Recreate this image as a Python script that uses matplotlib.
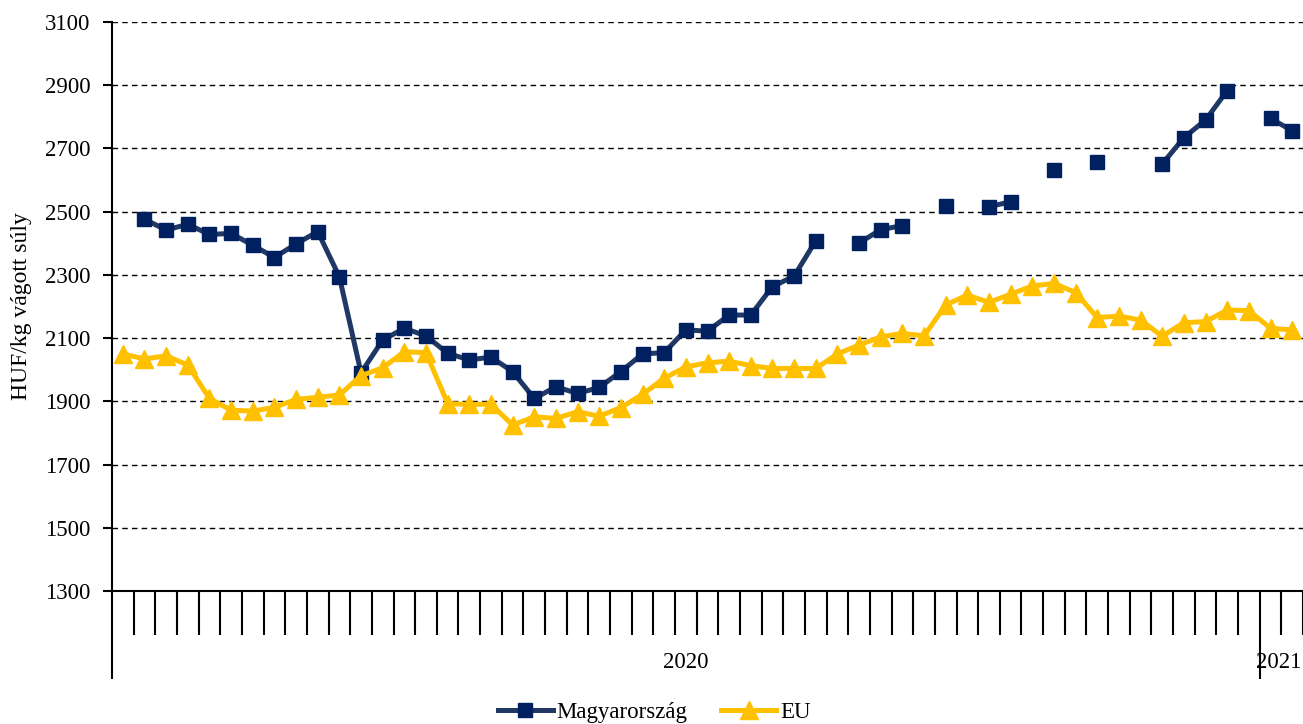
import numpy as np
import matplotlib.pyplot as plt
from matplotlib.transforms import blended_transform_factory

#---
#       DATA (weekly prices, HUF/kg carcass weight)
#---
nan = np.nan

# week categories: 2020 has 53 weeks, then the first weeks of 2021
years = ['2020', '2021']
weeks_per_year = [53, 2]

hu = [nan, 2476, 2442, 2460, 2428, 2431, 2394, 2355, 2398, 2437,
      2294, 1990, 2094, 2131, 2107, 2052, 2031, 2040, 1994, 1909,
      1946, 1925, 1944, 1994, 2050, 2054, 2126, 2122, 2173, 2173,
      2263, 2296, 2408, nan, 2401, 2443, 2456, nan, 2519, nan,
      2516, 2531, nan, 2632, nan, 2656, nan, nan, 2651, 2734,
      2790, 2883, nan, 2795, 2756]

eu = [2050, 2034, 2044, 2015, 1909, 1872, 1869, 1881, 1906, 1913,
      1920, 1981, 2006, 2057, 2054, 1893, 1890, 1891, 1825, 1851,
      1846, 1867, 1853, 1880, 1922, 1973, 2009, 2022, 2027, 2013,
      2004, 2004, 2004, 2050, 2078, 2104, 2115, 2107, 2205, 2236,
      2213, 2239, 2265, 2273, 2244, 2165, 2170, 2157, 2106, 2149,
      2152, 2189, 2187, 2131, 2126]

yticks = [1300, 1500, 1700, 1900, 2100, 2300, 2500, 2700, 2900, 3100]

#---
#       PLOT
#---
plt.rcParams['font.family'] = ['Liberation Serif', 'DejaVu Serif']
FS = 16.5

W, H = 1303, 724
fig = plt.figure(figsize=(W / 100, H / 100), dpi=100)
fig.set_facecolor('white')
ax = fig.add_axes([112 / W, 1 - 591 / H, (W - 112) / W, (591 - 22) / H])

x = np.arange(len(eu)) + 0.5

ax.plot(x, hu, '-s', color='#1f3864', linewidth=3.6, markersize=10.5,
        markerfacecolor='#002060', markeredgecolor='#002060',
        label='Magyarország', zorder=3)
ax.plot(x, eu, '-^', color='#ffc000', linewidth=3.6, markersize=13,
        markerfacecolor='#ffc000', markeredgecolor='#ffc000',
        label='EU', zorder=4)

ax.set_xlim(0, (W - 112) / 21.7)
ax.set_ylim(1300, 3100)
ax.set_yticks(yticks)
ax.yaxis.grid(True, linestyle=(0, (4, 3)), color='black', linewidth=1)
ax.set_axisbelow(True)
ax.tick_params(axis='y', direction='out', length=6.5, width=1.5,
               labelsize=FS, pad=9)

# category boundaries as x ticks, year boundaries longer
bounds = np.cumsum([0] + weeks_per_year)
ax.set_xticks(bounds[:-1])
ax.set_xticklabels([])
ax.set_xticks(np.arange(1, bounds[-1] + 1), minor=True)
ax.tick_params(axis='x', which='major', direction='out', length=63, width=1.5)
ax.tick_params(axis='x', which='minor', direction='out', length=31.5, width=1.5)

trans = blended_transform_factory(ax.transData, ax.transAxes)
ax.text((bounds[0] + bounds[1]) / 2, -0.126, years[0], transform=trans,
        ha='center', va='center', fontsize=FS)
# 2021 label kept inside the right edge, next to the year boundary
ax.text(0.999, -0.126, years[1], transform=ax.transAxes,
        ha='right', va='center', fontsize=FS)

for s in ['top', 'right']:
    ax.spines[s].set_visible(False)
for s in ['left', 'bottom']:
    ax.spines[s].set_linewidth(1.5)

ax.set_ylabel('HUF/kg vágott súly', fontsize=17)
ax.yaxis.set_label_coords(-80 / (W - 112), 0.5)

fig.legend(loc='center', bbox_to_anchor=(0.502, 1 - 712 / H), ncol=2,
           frameon=False, fontsize=FS, handlelength=2.4, handletextpad=0.15,
           columnspacing=1.5)

fig.savefig('out.png', dpi=100, facecolor='white')
